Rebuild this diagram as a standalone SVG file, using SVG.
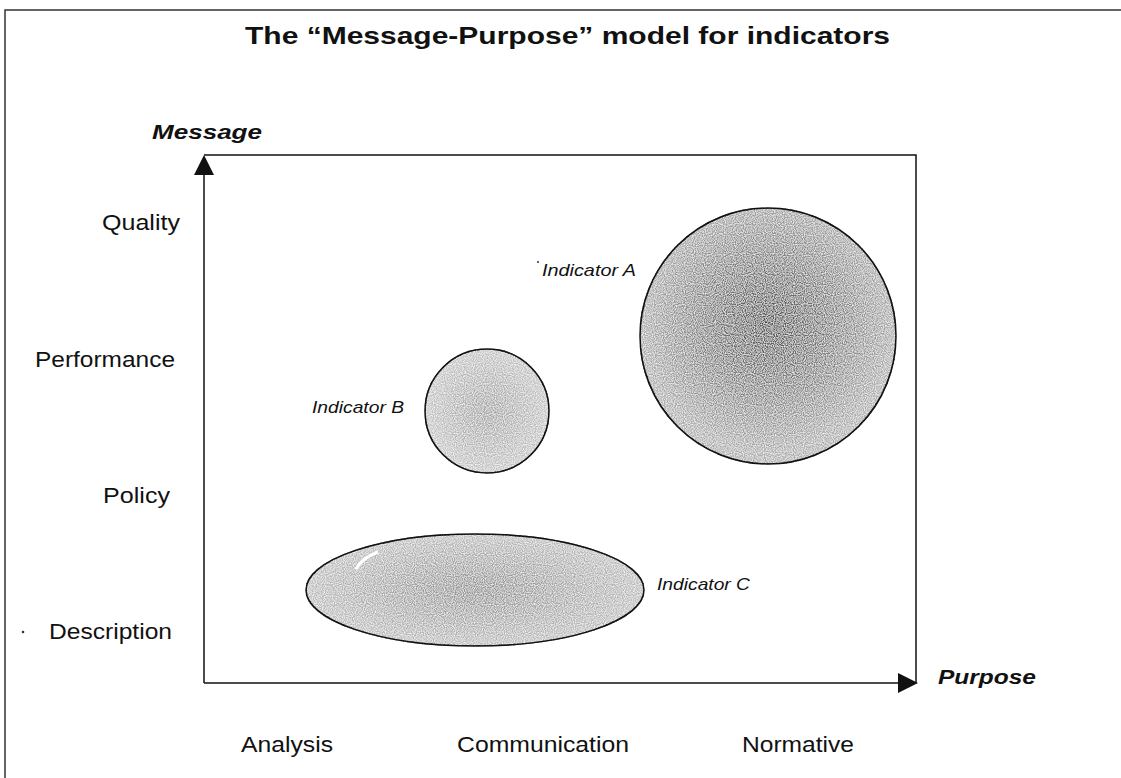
<svg xmlns="http://www.w3.org/2000/svg" width="1121" height="778" viewBox="0 0 1121 778">
<style>
.yl{font-family:"Liberation Sans",Arial,sans-serif;font-size:22px;fill:#111}
.ind{font-family:"Liberation Sans",Arial,sans-serif;font-size:17px;font-style:italic;fill:#111}
.ax{font-family:"Liberation Sans",Arial,sans-serif;font-style:italic;font-weight:bold;fill:#111}
.bub{stroke:#111;stroke-width:1.5}
</style>
<defs>
<radialGradient id="gA" cx="0.5" cy="0.45" r="0.5">
<stop offset="0" stop-color="#4a4a4a"/><stop offset="0.55" stop-color="#808080"/><stop offset="1" stop-color="#acacac"/>
</radialGradient>
<radialGradient id="gB" cx="0.5" cy="0.5" r="0.5">
<stop offset="0" stop-color="#a0a0a0"/><stop offset="1" stop-color="#c4c4c4"/>
</radialGradient>
<radialGradient id="gC" cx="0.5" cy="0.5" r="0.5">
<stop offset="0" stop-color="#8e8e8e"/><stop offset="1" stop-color="#bcbcbc"/>
</radialGradient>
<filter id="grain" x="0" y="0" width="1" height="1">
<feTurbulence type="fractalNoise" baseFrequency="0.9" numOctaves="1" seed="3" result="n"/>
<feColorMatrix in="n" type="matrix" values="0 0 0 0 1  0 0 0 0 1  0 0 0 0 1  0 0 0 -1.8 1.2" result="w"/>
<feComposite in="w" in2="SourceGraphic" operator="in" result="wc"/>
<feMerge><feMergeNode in="SourceGraphic"/><feMergeNode in="wc"/></feMerge>
</filter>
<marker id="arrB" viewBox="0 0 10 10" refX="9" refY="5" markerWidth="20" markerHeight="20" markerUnits="userSpaceOnUse" orient="auto">
<path d="M0,0 L10,5 L0,10 z" fill="#111"/>
</marker>
</defs>
<rect x="0" y="0" width="1121" height="778" fill="#fff"/>
<path d="M5,778 V10 H1121" fill="none" stroke="#333" stroke-width="1.5"/>
<text x="245" y="44" textLength="645" lengthAdjust="spacingAndGlyphs" font-family="'Liberation Sans',Arial,sans-serif" font-size="24" font-weight="bold" fill="#111">The “Message-Purpose” model for indicators</text>
<g id="connectors" fill="none" stroke="#111" stroke-width="1.5">
<path d="M204,155 H916 V683"/>
<line x1="204" y1="683" x2="204" y2="157" marker-end="url(#arrB)"/>
<line x1="204" y1="683" x2="916" y2="683" marker-end="url(#arrB)"/>
</g>
<text class="ax" x="152" y="139" font-size="21" textLength="110" lengthAdjust="spacingAndGlyphs">Message</text>
<text class="ax" x="938" y="684" font-size="21" textLength="98" lengthAdjust="spacingAndGlyphs">Purpose</text>
<g id="yaxis">
<text class="yl" x="102" y="230" textLength="78" lengthAdjust="spacingAndGlyphs">Quality</text>
<text class="yl" x="35" y="367" textLength="140" lengthAdjust="spacingAndGlyphs">Performance</text>
<text class="yl" x="103" y="503" textLength="67" lengthAdjust="spacingAndGlyphs">Policy</text>
<text class="yl" x="49" y="639" textLength="123" lengthAdjust="spacingAndGlyphs">Description</text>
<circle cx="23" cy="632" r="1.3" fill="#333"/>
</g>
<g id="xaxis">
<text class="yl" x="241" y="752" textLength="92" lengthAdjust="spacingAndGlyphs">Analysis</text>
<text class="yl" x="457" y="752" textLength="172" lengthAdjust="spacingAndGlyphs">Communication</text>
<text class="yl" x="742" y="752" textLength="112" lengthAdjust="spacingAndGlyphs">Normative</text>
</g>
<g id="indicatorA">
<circle class="bub" cx="768" cy="336" r="128" fill="url(#gA)" filter="url(#grain)"/>
<circle cx="768" cy="336" r="128" fill="none" stroke="#111" stroke-width="1.5"/>
<text class="ind" x="542" y="276" textLength="94" lengthAdjust="spacingAndGlyphs">Indicator A</text>
<circle cx="538" cy="262" r="1" fill="#333"/>
</g>
<g id="indicatorB">
<circle class="bub" cx="487" cy="411" r="62" fill="url(#gB)" filter="url(#grain)"/>
<circle cx="487" cy="411" r="62" fill="none" stroke="#111" stroke-width="1.5"/>
<text class="ind" x="312" y="413" textLength="92" lengthAdjust="spacingAndGlyphs">Indicator B</text>
</g>
<g id="indicatorC">
<ellipse class="bub" cx="475" cy="590" rx="169" ry="56" fill="url(#gC)" filter="url(#grain)"/>
<ellipse cx="475" cy="590" rx="169" ry="56" fill="none" stroke="#111" stroke-width="1.5"/>
<path d="M356,569 Q362,558 378,552" fill="none" stroke="#fff" stroke-width="3"/>
<text class="ind" x="657" y="590" textLength="93" lengthAdjust="spacingAndGlyphs">Indicator C</text>
</g>
</svg>
